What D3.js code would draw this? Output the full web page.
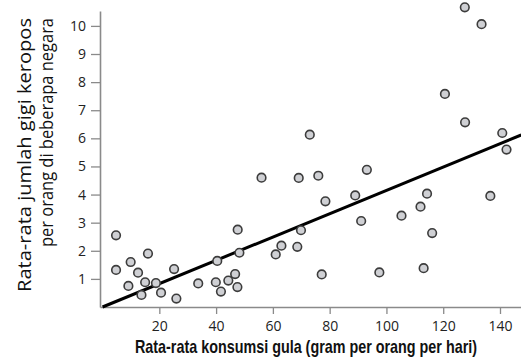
<!DOCTYPE html>
<html>
<head>
<meta charset="utf-8">
<script src="https://cdn.jsdelivr.net/npm/d3@7"></script>
<style>
  body { margin: 0; background: #fff; }
  svg { display: block; }
</style>
</head>
<body>
<div id="chart"></div>
<script>
// gula (gram/orang/hari) vs rata-rata gigi keropos
const sugar = [4.75, 4.75, 9.9, 16.0, 12.5, 9.1, 15.0, 13.7, 18.8, 20.6, 25.2, 26.0, 33.7, 39.9, 40.4, 41.7,
  44.3, 46.7, 47.5, 47.6, 48.2, 56.0, 61.0, 63.0, 68.6, 69.1, 69.9, 73.0, 76.0, 77.2, 78.5, 89.0, 91.1, 93.1,
  97.5, 105.3, 112.0, 113.1, 114.3, 116.1, 120.6, 127.6, 127.7, 133.5, 136.6, 140.8, 142.3];
const decay = [2.55, 1.32, 1.60, 1.90, 1.22, 0.75, 0.88, 0.43, 0.85, 0.51, 1.35, 0.30, 0.84, 0.88, 1.64, 0.55,
  0.94, 1.17, 0.71, 2.75, 1.93, 4.60, 1.87, 2.18, 2.14, 4.59, 2.73, 6.13, 4.67, 1.16, 3.76, 3.97, 3.06, 4.88,
  1.23, 3.25, 3.57, 1.38, 4.03, 2.63, 7.58, 10.66, 6.57, 10.06, 3.95, 6.19, 5.60];
const trendX = [0, 147.5];
const trendY = [0, 6.12];
const xTicks = [20, 40, 60, 80, 100, 120, 140];
const yTicks = [1, 2, 3, 4, 5, 6, 7, 8, 9, 10];
const yLabel = ["Rata-rata jumlah gigi keropos", "per orang di beberapa negara"];
const xLabel = "Rata-rata konsumsi gula (gram per orang per hari)";

const W = 521, H = 362;
const svg = d3.select("#chart").append("svg")
  .attr("width", W)
  .attr("height", H);

const x = d3.scaleLinear().domain([-0.9, 147.4]).range([100, 521]);
const y = d3.scaleLinear().domain([0, 10.53]).range([307, 11]);

// x axis
const xAxis = svg.append("g")
  .attr("transform", `translate(0, ${y(0)})`)
  .call(d3.axisBottom(x).tickValues(xTicks).tickSize(7).tickPadding(7).tickSizeOuter(0));

// y axis
const yAxis = svg.append("g")
  .attr("transform", `translate(${x(-0.9)}, 0)`)
  .call(d3.axisLeft(y).tickValues(yTicks).tickSize(9).tickPadding(5).tickSizeOuter(0));

[xAxis, yAxis].forEach(a => {
  a.select(".domain").attr("stroke", "#8a8a8a").attr("stroke-width", 1.6);
  a.selectAll(".tick line").attr("stroke", "#8a8a8a").attr("stroke-width", 1.3);
  a.selectAll(".tick text")
    .attr("fill", "#222")
    .style("font-family", "'Open Sans', 'DejaVu Sans', sans-serif")
    .style("font-size", "14px");
});

// trend line
const line = d3.line()
  .x(d => x(d[0]))
  .y(d => y(d[1]));

svg.append("path")
  .datum(d3.zip(trendX, trendY))
  .attr("fill", "none")
  .attr("stroke", "#000")
  .attr("stroke-width", 3)
  .attr("d", line);

// titik
svg.append("g")
  .selectAll("circle")
  .data(d3.zip(sugar, decay))
  .join("circle")
  .attr("cx", d => x(d[0]))
  .attr("cy", d => y(d[1]))
  .attr("r", 4.3)
  .attr("fill", "#cfd0d4")
  .attr("stroke", "#3c3c3c")
  .attr("stroke-width", 1.6);

// label sumbu y
const yLab = svg.append("g").attr("transform", "rotate(-90)");
yLab.selectAll("text")
  .data(yLabel)
  .join("text")
  .attr("x", -18)
  .attr("y", (d, i) => 31 + i * 22)
  .attr("text-anchor", "end")
  .attr("textLength", (d, i) => i === 0 ? 274 : 229)
  .attr("lengthAdjust", "spacingAndGlyphs")
  .attr("fill", "#111")
  .style("font-family", "'Open Sans', 'Noto Sans', sans-serif")
  .style("font-size", "19px")
  .text(d => d);

// label sumbu x
svg.append("text")
  .attr("x", 135)
  .attr("y", 353)
  .attr("textLength", 342)
  .attr("lengthAdjust", "spacingAndGlyphs")
  .attr("fill", "#111")
  .style("font-family", "'Liberation Sans Narrow', 'Liberation Sans', sans-serif")
  .style("font-weight", "bold")
  .style("font-size", "19px")
  .text(xLabel);
</script>
</body>
</html>
